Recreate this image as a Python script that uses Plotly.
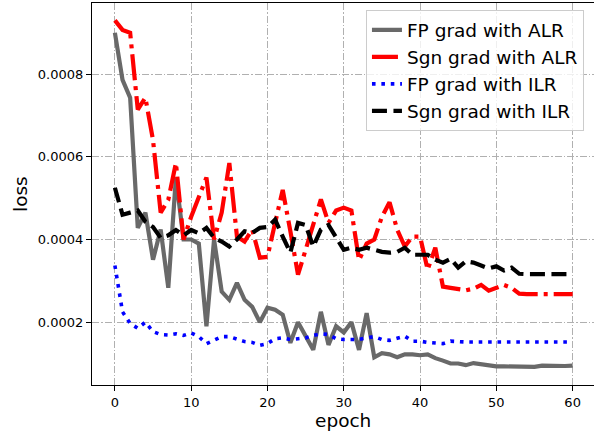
import plotly.graph_objects as go

epochs = list(range(61))

fp_alr = [0.00090, 0.000786, 0.000743, 0.000428, 0.000465, 0.000351, 0.000424, 0.000283, 0.00055, 0.0004,
          0.0004, 0.00039, 0.00019, 0.0004, 0.000274, 0.000254, 0.000295, 0.000254, 0.000237, 0.0002,
          0.000235, 0.00023, 0.000218, 0.00015, 0.0002, 0.000165, 0.000133, 0.000225, 0.000145, 0.00019,
          0.000175, 0.0002, 0.000133, 0.000222, 0.000115, 0.000125, 0.000122, 0.000115, 0.000122, 0.000122,
          0.00012, 0.000122, 0.000113, 0.000107, 0.0001, 0.0001, 0.000096, 0.000101, 0.000098, 0.000095,
          0.000093, 0.000093, 0.000093, 0.000092, 0.000091, 0.000092, 0.000095, 0.000094, 0.000095, 0.000094,
          0.000095]

sgn_alr = [0.00093, 0.000907, 0.0009, 0.000714, 0.000743, 0.00064, 0.000465, 0.000496, 0.000585, 0.0004,
           0.000455, 0.0005, 0.00055, 0.0004, 0.000465, 0.000585, 0.000407, 0.000395, 0.000424, 0.000356,
           0.000358, 0.00044, 0.00052, 0.00042, 0.000315, 0.000375, 0.000435, 0.000497, 0.00044, 0.00047,
           0.000477, 0.00047, 0.00035, 0.00039, 0.0004, 0.000455, 0.00049, 0.000424, 0.000383, 0.000407,
           0.000407, 0.000327, 0.00038, 0.000286, 0.000283, 0.00028, 0.000277, 0.000281, 0.00029, 0.000276,
           0.000283, 0.00029, 0.000283, 0.000269, 0.000268, 0.000268, 0.000268, 0.000268, 0.000268, 0.000268,
           0.000268]

fp_ilr = [0.000337, 0.000225, 0.000197, 0.000185, 0.0002, 0.000177, 0.00017, 0.000169, 0.000172, 0.000168,
          0.000174, 0.000165, 0.000148, 0.000156, 0.000165, 0.000165, 0.000159, 0.000153, 0.000151, 0.000144,
          0.000148, 0.00016, 0.000162, 0.000158, 0.00016, 0.000162, 0.000168, 0.000172, 0.00017, 0.00016,
          0.000158, 0.000158, 0.000158, 0.000162, 0.000165, 0.000158, 0.000156, 0.000161, 0.000166, 0.000154,
          0.000154, 0.000151, 0.00015, 0.000148, 0.000154, 0.000152, 0.000152, 0.000152, 0.000152, 0.000152,
          0.000152, 0.000152, 0.000152, 0.000152, 0.000152, 0.000152, 0.000152, 0.000152, 0.000152, 0.000152,
          0.000152]

sgn_ilr = [0.000525, 0.00046, 0.000465, 0.00047, 0.000443, 0.00043, 0.000404, 0.00041, 0.000423, 0.00041,
           0.000423, 0.000415, 0.000428, 0.000404, 0.000395, 0.000383, 0.0004, 0.00042, 0.000416, 0.000428,
           0.00043, 0.000448, 0.000407, 0.000368, 0.00044, 0.000435, 0.000383, 0.000424, 0.000435, 0.000407,
           0.000375, 0.00038, 0.000375, 0.00038, 0.000375, 0.00037, 0.000368, 0.00037, 0.00038, 0.000363,
           0.000363, 0.000363, 0.000351, 0.000344, 0.000353, 0.000332, 0.000347, 0.000344, 0.000337, 0.00033,
           0.000335, 0.000325, 0.000332, 0.000317, 0.000316, 0.000316, 0.000316, 0.000316, 0.000316, 0.000316,
           0.000316]

x_ticks = [0, 10, 20, 30, 40, 50, 60]
y_ticks = [0.0002, 0.0004, 0.0006, 0.0008]
y_tick_labels = ["0.0002", "0.0004", "0.0006", "0.0008"]
x_title = "epoch"
y_title = "loss"

FONT = "DejaVu Sans"

fig = go.Figure()
fig.add_trace(go.Scatter(x=epochs, y=fp_alr, mode="lines", name="FP grad with ALR",
                         line=dict(color="#696969", width=4.2)))
fig.add_trace(go.Scatter(x=epochs, y=sgn_alr, mode="lines", name="Sgn grad with ALR",
                         line=dict(color="#ff0000", width=4.2, dash="26px,6px,4px,6px")))
fig.add_trace(go.Scatter(x=epochs, y=fp_ilr, mode="lines", name="FP grad with ILR",
                         line=dict(color="#0000ff", width=3.6, dash="3.6px,5.8px")))
fig.add_trace(go.Scatter(x=epochs, y=sgn_ilr, mode="lines", name="Sgn grad with ILR",
                         line=dict(color="#000000", width=4.2, dash="15px,6.5px")))

grid = dict(showgrid=True, gridcolor="#b0b0b0", gridwidth=1, griddash="7px,2px,1.5px,2px")

fig.update_layout(
    width=594, height=434,
    margin=dict(l=92, r=0, t=3, b=49, autoexpand=False),
    paper_bgcolor="white", plot_bgcolor="white",
    font=dict(family=FONT, size=13, color="black"),
    showlegend=True,
    legend=dict(x=0.98, y=0.981, xanchor="right", yanchor="top",
                bgcolor="rgba(255,255,255,0.8)", bordercolor="#cccccc", borderwidth=1,
                font=dict(family=FONT, size=18.5, color="black"),
                tracegroupgap=0),
    xaxis=dict(range=[-3, 62.8], tickvals=x_ticks, ticks="outside", ticklen=5, tickwidth=1,
               tickcolor="black", showline=True, linecolor="black", linewidth=1.1, mirror=True,
               zeroline=False, automargin=False, tickfont=dict(size=13), **grid),
    yaxis=dict(range=[0.000048, 0.000972], tickvals=y_ticks, ticktext=y_tick_labels,
               ticks="outside", ticklen=5, tickwidth=1, tickcolor="black",
               showline=True, linecolor="black", linewidth=1.1, mirror=False, zeroline=False,
               automargin=False, tickfont=dict(size=13), **grid),
    annotations=[
        dict(text=x_title, xref="paper", yref="paper", x=0.5, y=-0.094, xanchor="center",
             yanchor="middle", showarrow=False, font=dict(size=18.5)),
        dict(text=y_title, xref="paper", yref="paper", x=-0.1434, y=0.5, xanchor="center",
             yanchor="middle", textangle=-90, showarrow=False, font=dict(size=18.5)),
    ],
)

fig.write_html("out.html", config={"displayModeBar": False},
               post_script="document.body.style.margin='0';document.body.style.overflow='hidden';")
